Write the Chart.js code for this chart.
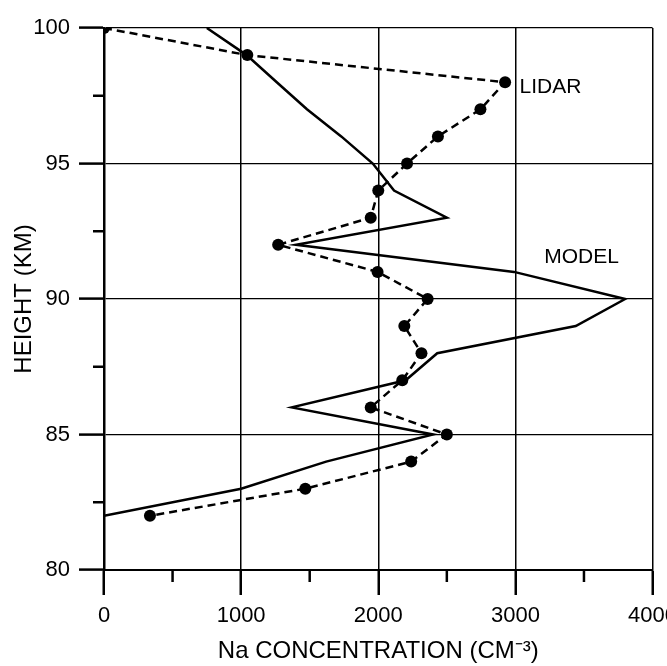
<!DOCTYPE html>
<html>
<head>
<meta charset="utf-8">
<script src="https://cdn.jsdelivr.net/npm/chart.js@4.4.1/dist/chart.umd.min.js"></script>
<style>
    html, body { margin: 0; padding: 0; background: #fff; overflow: hidden; }
    #wrap { width: 685px; height: 666px; }
</style>
</head>
<body>
<div id="wrap"><canvas id="naChart" width="685" height="666"></canvas></div>
<script>
// heights in km, top to bottom
const heights = [100, 99, 98, 97, 96, 95, 94, 93, 92, 91, 90, 89, 88, 87, 86, 85, 84, 83, 82];
// Na concentration, cm^-3
const lidarConc = [0, 1045, 2925, 2745, 2435, 2210, 2000, 1945, 1270, 1995, 2360, 2190, 2315, 2175, 1945, 2500, 2240, 1468, 335];
const modelConc = [750, 1040, 1260, 1480, 1730, 1960, 2115, 2500, 1400, 2990, 3800, 3440, 2430, 2200, 1370, 2400, 1620, 1000, 0];

const xTitle = "Na CONCENTRATION (CM\u207B\u00B3)";
const yTitle = "HEIGHT (KM)";
const seriesNames = ["LIDAR", "MODEL"];

const FONT = '"Liberation Sans", Arial, Helvetica, sans-serif';
Chart.defaults.font.family = FONT;
Chart.defaults.color = "#000";

function toPoints(xs, ys) {
    return xs.map((v, i) => ({ x: v, y: ys[i] }));
}

// series labels + the short minor ticks (Chart.js has no minor ticks)
const extrasPlugin = {
    id: "extras",
    afterDraw(chart) {
        const { ctx, chartArea, scales: { x, y } } = chart;
        ctx.save();
        ctx.strokeStyle = "#000";
        ctx.lineWidth = 2.5;
        x.ticks.forEach(t => {
            if (t.value % 1000 === 0) return;
            const px = x.getPixelForValue(t.value);
            ctx.beginPath();
            ctx.moveTo(px, chartArea.bottom);
            ctx.lineTo(px, chartArea.bottom + 12);
            ctx.stroke();
        });
        y.ticks.forEach(t => {
            if (t.value % 5 === 0) return;
            const py = y.getPixelForValue(t.value);
            ctx.beginPath();
            ctx.moveTo(chartArea.left - 11, py);
            ctx.lineTo(chartArea.left, py);
            ctx.stroke();
        });

        ctx.font = "21px " + FONT;
        ctx.fillStyle = "#000";
        ctx.textAlign = "left";
        ctx.textBaseline = "middle";
        ctx.fillText(seriesNames[0], x.getPixelForValue(3030), y.getPixelForValue(97.8));
        ctx.fillText(seriesNames[1], x.getPixelForValue(3210), y.getPixelForValue(91.55));
        ctx.restore();
    }
};

new Chart(document.getElementById("naChart"), {
    type: "scatter",
    data: {
        datasets: [
            {
                label: seriesNames[0],
                data: toPoints(lidarConc, heights),
                showLine: true,
                borderColor: "#000",
                borderWidth: 2.5,
                borderDash: [8, 5],
                pointRadius: 6,
                pointBackgroundColor: "#000",
                pointBorderWidth: 0
            },
            {
                label: seriesNames[1],
                data: toPoints(modelConc, heights),
                showLine: true,
                borderColor: "#000",
                borderWidth: 2.5,
                pointRadius: 0
            }
        ]
    },
    options: {
        responsive: false,
        animation: false,
        layout: { padding: { top: 28, right: 0, left: 0, bottom: 0 } },
        plugins: {
            legend: { display: false },
            tooltip: { enabled: false }
        },
        scales: {
            x: {
                type: "linear",
                min: 0,
                max: 4000,
                ticks: {
                    stepSize: 500,
                    autoSkip: false,
                    maxRotation: 0,
                    padding: 8,
                    font: { size: 22 },
                    callback: v => (v % 1000 === 0 ? String(v) : "")
                },
                grid: {
                    color: c => (c.tick && c.tick.value % 1000 === 0 ? "#000" : "rgba(0,0,0,0)"),
                    lineWidth: 1.5,
                    tickLength: 25,
                    tickWidth: 2.5,
                    tickColor: c => (c.tick && c.tick.value % 1000 === 0 ? "#000" : "rgba(0,0,0,0)")
                },
                border: { color: "#000", width: 2 },
                title: {
                    display: true,
                    text: xTitle,
                    font: { size: 24 },
                    padding: { top: 0, bottom: 0 }
                },
                afterFit: s => { s.height = 96; }
            },
            y: {
                type: "linear",
                min: 80,
                max: 100,
                ticks: {
                    stepSize: 2.5,
                    autoSkip: false,
                    padding: 9,
                    font: { size: 22 },
                    callback: v => (v % 5 === 0 ? String(v) : "")
                },
                grid: {
                    color: c => (c.tick && c.tick.value % 5 === 0 ? "#000" : "rgba(0,0,0,0)"),
                    lineWidth: 1.2,
                    tickLength: 25,
                    tickWidth: 2.5,
                    tickColor: c => (c.tick && c.tick.value % 5 === 0 ? "#000" : "rgba(0,0,0,0)")
                },
                border: { color: "#000", width: 2.5 },
                title: {
                    display: true,
                    text: yTitle,
                    font: { size: 24 },
                    padding: { top: 10, bottom: 0 }
                },
                afterFit: s => { s.width = 104; }
            }
        }
    },
    plugins: [extrasPlugin]
});
</script>
</body>
</html>
